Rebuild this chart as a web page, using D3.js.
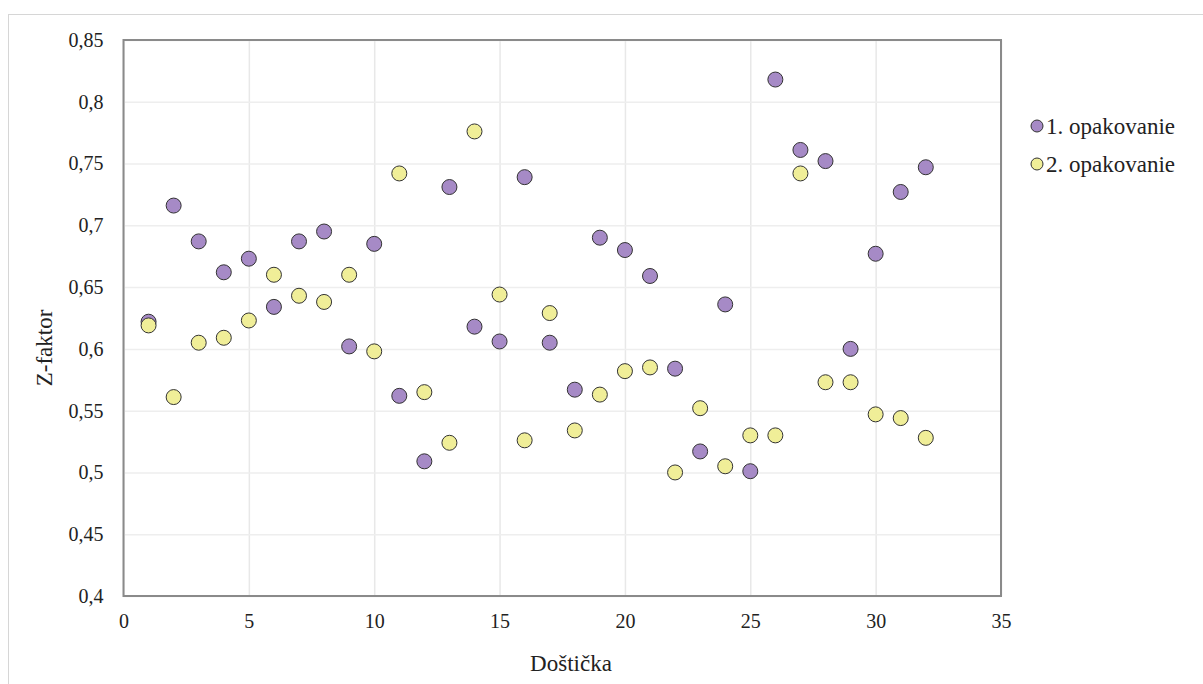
<!DOCTYPE html>
<html>
<head>
<meta charset="utf-8">
<script src="https://cdn.jsdelivr.net/npm/d3@7"></script>
<style>
  html, body { margin: 0; padding: 0; background: #fff; }
  svg { display: block; }
  svg text { font-family: 'Liberation Serif'; }
</style>
</head>
<body>
<svg id="chart" width="1203" height="684"></svg>
<script>
const plates = d3.range(1, 33);
const series1Name = "1. opakovanie";
const series2Name = "2. opakovanie";
const series1 = [0.622, 0.716, 0.687, 0.662, 0.673, 0.634, 0.687, 0.695, 0.602, 0.685,
                 0.562, 0.509, 0.731, 0.618, 0.606, 0.739, 0.605, 0.567, 0.690, 0.680,
                 0.659, 0.584, 0.517, 0.636, 0.501, 0.818, 0.761, 0.752, 0.600, 0.677,
                 0.727, 0.747];
const series2 = [0.619, 0.561, 0.605, 0.609, 0.623, 0.660, 0.643, 0.638, 0.660, 0.598,
                 0.742, 0.565, 0.524, 0.776, 0.644, 0.526, 0.629, 0.534, 0.563, 0.582,
                 0.585, 0.500, 0.552, 0.505, 0.530, 0.530, 0.742, 0.573, 0.573, 0.547,
                 0.544, 0.528];
const xTicks = [0, 5, 10, 15, 20, 25, 30, 35];
const yTicks = [0.4, 0.45, 0.5, 0.55, 0.6, 0.65, 0.7, 0.75, 0.8, 0.85];
const colors = ["#a68ac6", "#f0ee98"];
const FONT = "'Liberation Serif'";

const svg = d3.select("#chart").attr("font-family", "Liberation Serif");
const L = 123.5, R = 1001, T = 40, B = 596;

// outer chart border
svg.append("rect").attr("x", 8.5).attr("y", 14.5).attr("width", 1220).attr("height", 700)
  .attr("fill", "none").attr("stroke", "#d6d6d6").attr("stroke-width", 1);

const x = d3.scaleLinear().domain([0, 35]).range([L, R]);
const y = d3.scaleLinear().domain([0.4, 0.85]).range([B, T]);

// gridlines
svg.append("g").attr("transform", `translate(0,${B})`)
  .call(d3.axisBottom(x).tickValues(xTicks).tickSize(-(B - T)).tickFormat(""))
  .call(g => g.select(".domain").remove())
  .call(g => g.selectAll("line").attr("stroke", "#e8e8e8").attr("stroke-width", 1.5));
svg.append("g").attr("transform", `translate(${L},0)`)
  .call(d3.axisLeft(y).tickValues(yTicks).tickSize(-(R - L)).tickFormat(""))
  .call(g => g.select(".domain").remove())
  .call(g => g.selectAll("line").attr("stroke", "#eeeeee").attr("stroke-width", 1.5));

// plot border
svg.append("rect").attr("x", L).attr("y", T).attr("width", R - L).attr("height", B - T)
  .attr("fill", "none").attr("stroke", "#8a8a8a").attr("stroke-width", 2);

const fmt = d => String(d).replace(".", ",");

// x tick labels
svg.append("g").attr("transform", `translate(0,${B})`)
  .call(d3.axisBottom(x).tickValues(xTicks).tickSize(0).tickPadding(18).tickFormat(d => d))
  .call(g => g.select(".domain").remove())
  .call(g => g.attr("font-family", "Liberation Serif").attr("font-size", 20))
  .call(g => g.selectAll("text").style("font-family", FONT).style("font-size", "20px").attr("fill", "#222"));

// y tick labels
svg.append("g").attr("transform", `translate(${L},0)`)
  .call(d3.axisLeft(y).tickValues(yTicks).tickSize(0).tickPadding(20).tickFormat(fmt))
  .call(g => g.select(".domain").remove())
  .call(g => g.attr("font-family", "Liberation Serif").attr("font-size", 20))
  .call(g => g.selectAll("text").style("font-family", FONT).style("font-size", "20px").attr("fill", "#222"));

// axis titles
svg.append("text").attr("x", 571).attr("y", 671).attr("text-anchor", "middle")
  .style("font-family", FONT).style("font-size", "23px").attr("fill", "#222").text("Doštička");
svg.append("text").attr("transform", `translate(52,348) rotate(-90)`)
  .attr("text-anchor", "middle")
  .style("font-family", FONT).style("font-size", "23px").attr("fill", "#222").text("Z-faktor");

// points
const allSeries = [series1, series2];
allSeries.forEach((s, i) => {
  svg.append("g").selectAll("circle").data(plates.map((p, j) => [p, s[j]])).join("circle")
    .attr("cx", d => x(d[0])).attr("cy", d => y(d[1])).attr("r", 7.5)
    .attr("fill", colors[i]).attr("stroke", "#333").attr("stroke-width", 1);
});

// legend
const names = [series1Name, series2Name];
const lg = svg.append("g");
names.forEach((n, i) => {
  const yy = 126 + i * 38;
  lg.append("circle").attr("cx", 1037).attr("cy", yy).attr("r", 6)
    .attr("fill", colors[i]).attr("stroke", "#333").attr("stroke-width", 1);
  lg.append("text").attr("x", 1046).attr("y", yy + 8)
    .style("font-family", FONT).style("font-size", "23px").attr("fill", "#222").text(n);
});
</script>
</body>
</html>
